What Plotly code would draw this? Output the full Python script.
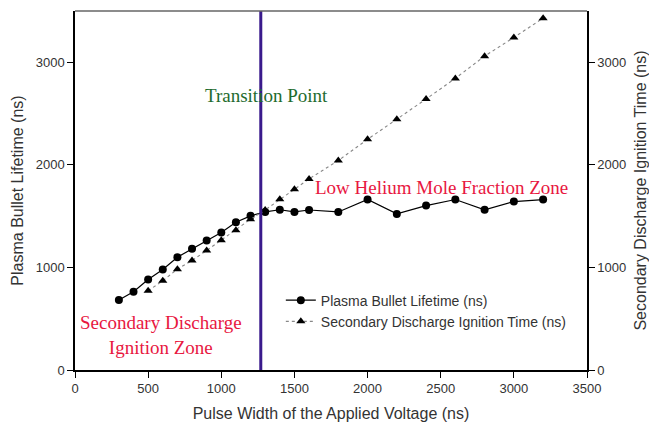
import plotly.graph_objects as go

pulse_lifetime = [300, 400, 500, 600, 700, 800, 900, 1000, 1100, 1200, 1300, 1400, 1500, 1600, 1800, 2000, 2200, 2400, 2600, 2800, 3000, 3200]
lifetime = [682, 763, 883, 980, 1100, 1181, 1262, 1341, 1441, 1503, 1541, 1562, 1541, 1560, 1541, 1662, 1522, 1603, 1662, 1562, 1642, 1662]

pulse_ignition = [500, 600, 700, 800, 900, 1000, 1100, 1200, 1300, 1400, 1500, 1600, 1800, 2000, 2200, 2400, 2600, 2800, 3000, 3200]
ignition = [772, 870, 983, 1067, 1165, 1266, 1363, 1470, 1560, 1665, 1762, 1863, 2042, 2249, 2444, 2642, 2843, 3060, 3242, 3430]

transition_x = 1270
x_ticks = [0, 500, 1000, 1500, 2000, 2500, 3000, 3500]
y_ticks = [0, 1000, 2000, 3000]

fig = go.Figure()
fig.add_trace(go.Scatter(
    x=pulse_lifetime, y=lifetime, mode="lines+markers",
    name="Plasma Bullet Lifetime (ns)",
    line=dict(color="black", width=1.2),
    marker=dict(symbol="circle", size=8, color="black"),
    yaxis="y"))
fig.add_trace(go.Scatter(
    x=pulse_ignition, y=ignition, mode="lines+markers",
    name="Secondary Discharge Ignition Time (ns)",
    line=dict(color="#888888", width=1.1, dash="dot"),
    marker=dict(symbol="triangle-up", size=8, color="black"),
    yaxis="y2"))

fig.add_shape(type="line", x0=transition_x, x1=transition_x, y0=0, y1=1,
              xref="x", yref="paper", line=dict(color="#3a1a8c", width=3))

serif = "Liberation Serif, Times New Roman, serif"
fig.add_annotation(x=1310, y=2680, text="Transition Point", showarrow=False,
                   font=dict(family=serif, size=19, color="#1e6b2e"), xanchor="center")
fig.add_annotation(x=1625, y=1780, text="Low Helium Mole Fraction Zone", showarrow=False,
                   font=dict(family=serif, size=19, color="#e8173f"), xanchor="left")
fig.add_annotation(x=590, y=340, text="Secondary Discharge<br>Ignition Zone", showarrow=False,
                   font=dict(family=serif, size=19, color="#e8173f"), xanchor="center")

sans = "Liberation Sans, Arial, sans-serif"
axis_common = dict(showgrid=False, zeroline=False, ticks="outside", ticklen=6,
                   tickcolor="black", showline=True, linecolor="black", linewidth=1.5,
                   tickfont=dict(family=sans, size=13, color="#333"), automargin=False)

fig.update_layout(
    width=649, height=431,
    margin=dict(l=75, r=62, t=11, b=61),
    plot_bgcolor="white", paper_bgcolor="white",
    showlegend=True,
    legend=dict(x=0.402, y=0.238, xanchor="left", yanchor="top",
                bgcolor="rgba(0,0,0,0)", font=dict(family=sans, size=14, color="#333"),
                tracegroupgap=0, itemwidth=30),
    xaxis=dict(range=[0, 3500], tickvals=x_ticks, mirror=False,
               title=dict(text="Pulse Width of the Applied Voltage (ns)",
                          font=dict(family=sans, size=16, color="#333"), standoff=12),
               **axis_common),
    yaxis=dict(range=[0, 3500], tickvals=y_ticks,
               title=dict(text="Plasma Bullet Lifetime (ns)",
                          font=dict(family=sans, size=16, color="#333"), standoff=8),
               **axis_common),
    yaxis2=dict(range=[0, 3500], tickvals=y_ticks, overlaying="y", side="right",
                title=dict(text="Secondary Discharge Ignition Time (ns)",
                           font=dict(family=sans, size=16, color="#333"), standoff=10),
                **axis_common),
)
fig.add_shape(type="line", x0=0, x1=1, y0=1, y1=1, xref="paper", yref="paper",
              line=dict(color="#666", width=1.5))

fig.write_html("out.html")
